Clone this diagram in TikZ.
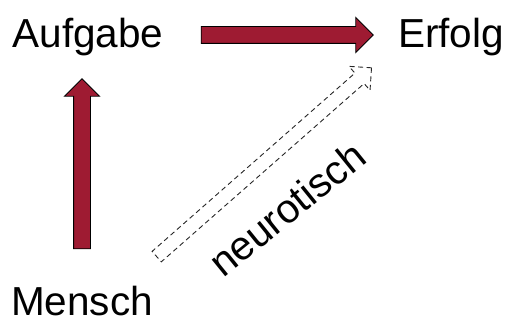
\documentclass[tikz,border=0pt]{standalone}
\usepackage{fontspec}
\setmainfont{Liberation Sans}
\usetikzlibrary{shapes.arrows}
\definecolor{darkred}{HTML}{9E1B32}

\begin{document}
\begin{tikzpicture}
[%%%%%%%%%%%%%%%%%%%%%%%%%%%%%%
x=1pt,y=-1pt,
word/.style={anchor=base, inner sep=0pt, font=\fontsize{40.5}{48}\selectfont},
blockarrow/.style={single arrow, inner sep=0pt, minimum width=0pt, single arrow head extend=9pt,
  text height=8pt, text depth=8pt, sloped},
redarrow/.style={blockarrow, draw=black, line width=0.9pt, fill=darkred},
dasharrow/.style={blockarrow, draw=black!85, line width=0.9pt, dash pattern=on 5pt off 3.5pt,
  text height=6.5pt, text depth=6.5pt},
]%%%%%%%%%%%%%%%%%%%%%%%%%%%%%%
\useasboundingbox (0,0) rectangle (507,320);

\node[word] (aufgabe) at (88,48) {Aufgabe};
\node[word] (erfolg) at (451,48) {Erfolg};
\node[word] (mensch) at (82,316) {Mensch};
\node[word, rotate=39] (neuro) at (296,220) {neurotisch};

\coordinate (aeTail) at (197,35);
\coordinate (aeTip) at (369,35);
\coordinate (maTail) at (82,253);
\coordinate (maTip) at (82,83);
\coordinate (meTail) at (154,259);
\coordinate (meTip) at (369,70);

\path (aeTail) -- node[redarrow, minimum height=172pt] (aeArrow) {} (aeTip);
\path (maTail) -- node[redarrow, minimum height=170pt] (maArrow) {} (maTip);
\path (meTail) -- node[dasharrow, minimum height=286pt] (meArrow) {} (meTip);
\end{tikzpicture}
\end{document}
